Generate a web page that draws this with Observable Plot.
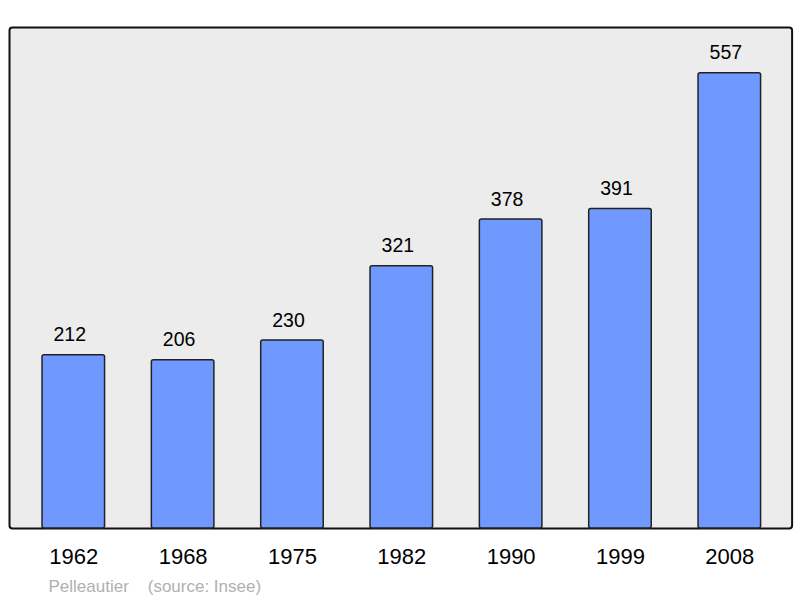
<!DOCTYPE html>
<html>
<head>
<meta charset="utf-8">
<script src="https://cdn.jsdelivr.net/npm/d3@7"></script>
<script src="https://cdn.jsdelivr.net/npm/@observablehq/plot@0.6"></script>
<style>
  html, body { margin: 0; padding: 0; background: #fff; }
  svg { display: block; }
</style>
</head>
<body>
<div id="chart"></div>
<script>
const years = ["1962", "1968", "1975", "1982", "1990", "1999", "2008"];
const population = [212, 206, 230, 321, 378, 391, 557];
const captionText = "Pelleautier\u00a0\u00a0\u00a0\u00a0(source: Insee)";

const data = years.map((y, i) => ({year: y, pop: population[i]}));

const chart = Plot.plot({
  width: 800,
  height: 598,
  marginTop: 27,
  marginBottom: 70,
  marginLeft: 9,
  marginRight: 6.4,
  style: {fontFamily: "Liberation Sans, Arial, sans-serif", background: "#fff"},
  x: {domain: years, paddingInner: 0.428, paddingOuter: 0.302, round: false, label: null},
  y: {domain: [0, 613], axis: null},
  marks: [
    Plot.frame({fill: "#ececec", stroke: "#111", strokeWidth: 2, rx: 3, insetRight: 2}),
    Plot.barY(data, {x: "year", y: "pop", fill: "#7099ff", stroke: "#222", strokeWidth: 1.5, rx: 2}),
    Plot.text(data, {x: "year", y: "pop", text: d => String(d.pop), lineAnchor: "bottom", dy: -14, dx: -4, fontSize: 19.5, fill: "#000"}),
    Plot.axisX({tickSize: 0, tickPadding: 20, fontSize: 22, color: "#000", label: null}),
    Plot.text([captionText], {frameAnchor: "bottom-left", text: d => d, textAnchor: "start", lineAnchor: "bottom", dx: 39, dy: 63, fontSize: 17, fill: "#b0b0b0"})
  ]
});
document.getElementById("chart").appendChild(chart);
</script>
</body>
</html>
